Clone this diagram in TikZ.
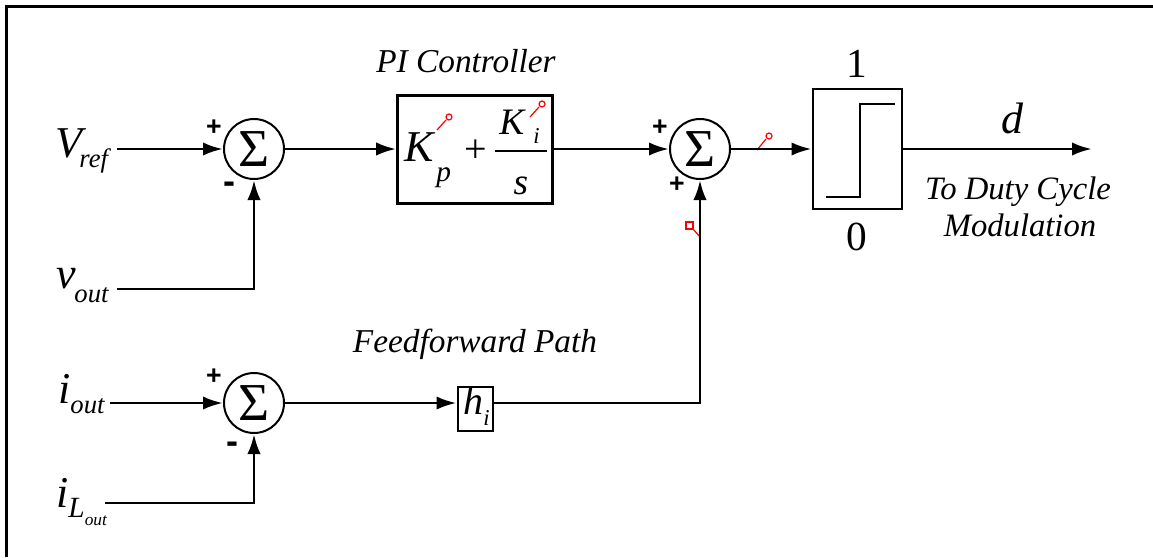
\documentclass[tikz,border=0pt]{standalone}
\usepackage{fontspec}
\setmainfont{Liberation Serif}
\newfontfamily\sgnfont{Liberation Sans}
\usetikzlibrary{arrows.meta,calc}
\newcommand{\myfs}[1]{\fontsize{#1}{#1}\selectfont}
\begin{document}
\begin{tikzpicture}[x=0.75pt,y=-0.75pt,
  wire/.style={line width=2.2pt},
  arr/.style={wire,-{Latex[length=15pt,width=10pt]}},
  sumnode/.style={circle,draw,line width=1.5pt,minimum size=45pt,inner sep=0pt,font=\myfs{40pt}},
  blk/.style={draw,line width=2.2pt,inner sep=0pt},
  sgn/.style={font=\sgnfont\bfseries\myfs{20pt},inner sep=0pt},
  msgn/.style={font=\sgnfont\bfseries\myfs{27pt},inner sep=0pt},
  lab/.style={font=\itshape\myfs{25pt},inner sep=0pt,anchor=base},
  txt/.style={inner sep=0pt,anchor=base west},
  redmk/.style={red,line width=0.9pt}
]
\useasboundingbox (0,0) rectangle (1153,557);
% frame
\draw[line width=2.25pt] (6,557) -- (6,6) -- (1153,6);

% summing junctions
\node[sumnode] (s1) at (254,149) {Σ};
\node[sumnode] (s2) at (700,149) {Σ};
\node[sumnode] (s3) at (254,403) {Σ};

% blocks
\node[blk,minimum width=116pt,minimum height=81pt] (pi) at (475,149.5) {};
\node[blk,minimum width=66.75pt,minimum height=90pt] (lim) at (857.5,149) {};
\node[blk,minimum width=26.25pt,minimum height=33pt] (h) at (475.5,409) {};

% block contents
\node[txt] (kp) at (404,161) {\myfs{33pt}\itshape K};
\node[txt] (kps) at (436,181) {\myfs{22pt}\itshape p};
\node[inner sep=0pt] (pl) at (476,151) {\myfs{30pt}+};
\draw[line width=1.5pt] (495,151) -- (547,151);
\node[txt] (ki) at (499,134) {\myfs{28pt}\itshape K};
\node[txt] (kis) at (533,143) {\myfs{17pt}\itshape i};
\node[inner sep=0pt,anchor=base] (sden) at (521,194) {\myfs{28pt}\itshape s};
\node[txt] (hh) at (463,414) {\myfs{30pt}\itshape h\raisebox{-8.5pt}{\myfs{17pt}i}};
\draw[wire] (826,197) -- (860,197) -- (860,104) -- (895,104);

% red markers
\draw[redmk] (437,130) -- (446,120);
\draw[redmk,fill=white] (449,117) circle[radius=3];
\draw[redmk] (530,117) -- (539,107);
\draw[redmk,fill=white] (542,104) circle[radius=3];
\draw[redmk] (757,150) -- (766,139);
\draw[redmk,fill=white] (769,136) circle[radius=3];
\draw[redmk] (693,229) -- (700,237);
\draw[redmk,fill=white] (686,222) rectangle (693,229);

% input labels
\node[txt] (lvref) at (55,157) {\myfs{33pt}\itshape V\kern-2pt\raisebox{-8pt}{\myfs{20pt}ref}};
\node[txt] (lvout) at (56,288) {\myfs{33pt}\itshape v\kern-1pt\raisebox{-10.5pt}{\myfs{20pt}out}};
\node[txt] (liout) at (58,403) {\myfs{33pt}\itshape i\raisebox{-7.5pt}{\myfs{20pt}out}};
\node[txt] (lilout) at (56,507) {\myfs{33pt}\itshape i\raisebox{-7.5pt}{\myfs{22pt}L\raisebox{-6pt}{\myfs{13pt}out}}};

\coordinate (vref) at (117,149);
\coordinate (vout) at (117,289);
\coordinate (iout) at (110,403);
\coordinate (ilout) at (105,503);
\coordinate (dout) at (1092,149);

% signs
\node[sgn] (p1) at (214,128) {+};
\node[msgn] (m1) at (229,188) {-};
\node[sgn] (p2) at (660,128) {+};
\node[sgn] (p3) at (677,185) {+};
\node[sgn] (p4) at (214,377) {+};
\node[msgn] (m2) at (232,448) {-};

% other labels
\node[lab] (lpi) at (466,72) {PI Controller};
\node[lab] (lff) at (475,352) {Feedforward Path};
\node[inner sep=0pt,anchor=base] (l1) at (857,77) {\myfs{31pt}1};
\node[inner sep=0pt,anchor=base] (l0) at (857,250) {\myfs{31pt}0};
\node[inner sep=0pt,anchor=base] (ld) at (1012,133) {\myfs{33pt}\itshape d};
\node[lab] (lto) at (1018,199) {\myfs{24.5pt}To Duty Cycle};
\node[lab] (lmod) at (1020,236) {\myfs{24.5pt}Modulation};

% connectors
\draw[arr] (vref) -- (s1.west);
\draw[arr] (vout) -| (s1.south);
\draw[arr] (s1.east) -- (pi.west |- s1.east);
\draw[arr] (pi.east |- s2.west) -- (s2.west);
\draw[arr] (s2.east) -- (lim.west |- s2.east);
\draw[arr] (lim.east |- dout) -- (dout);
\draw[arr] (iout) -- (s3.west);
\draw[arr] (ilout) -| (s3.south);
\draw[arr] (s3.east) -- (s3.east -| h.west);
\draw[arr] (s3.east -| h.east) -| (s2.south);
\end{tikzpicture}
\end{document}
